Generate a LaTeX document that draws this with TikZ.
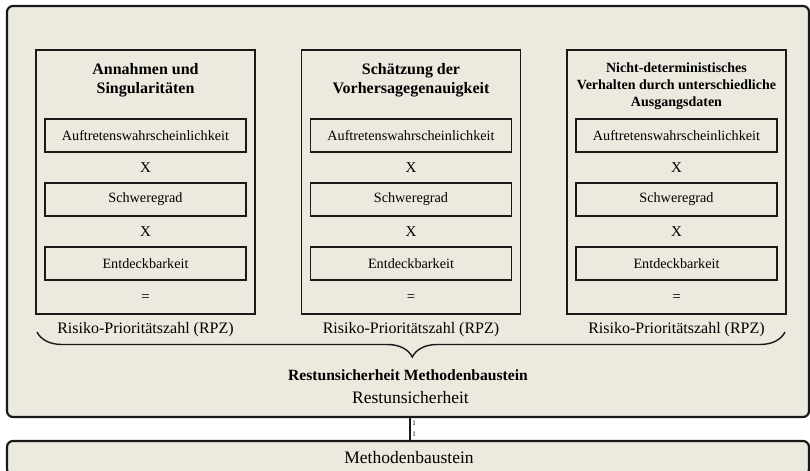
\documentclass[tikz,border=0pt]{standalone}
\usepackage{fontspec}
\setmainfont{Liberation Serif}
\usetikzlibrary{decorations.pathreplacing}
\definecolor{paper}{RGB}{236,233,223}
\definecolor{ink}{RGB}{25,25,25}
\tikzset{
  panel/.style={draw=ink, fill=paper, line width=2.2bp, rounded corners=6bp, inner sep=0pt},
  column/.style={draw=ink, fill=paper, line width=1.4bp, minimum width=219bp, minimum height=264bp, inner sep=0pt},
  factor/.style={draw=ink, fill=paper, line width=1.3bp, minimum width=201bp, minimum height=33bp, inner sep=0pt,
    font=\fontsize{14.2bp}{16bp}\selectfont},
  title/.style={align=center, inner sep=0pt, font=\fontsize{16bp}{19bp}\selectfont\bfseries},
  smalltitle/.style={align=center, inner sep=0pt, font=\fontsize{14bp}{17bp}\selectfont\bfseries},
  op/.style={inner sep=0pt, font=\fontsize{15bp}{18bp}\selectfont},
  rpz/.style={inner sep=0pt, font=\fontsize{16bp}{18bp}\selectfont},
  big/.style={inner sep=0pt, font=\fontsize{17.5bp}{20bp}\selectfont},
  bigbold/.style={inner sep=0pt, font=\fontsize{15.6bp}{18bp}\selectfont\bfseries},
  tiny/.style={inner sep=0pt, font=\fontsize{7bp}{8bp}\selectfont},
}
\begin{document}
\begin{tikzpicture}[x=1bp, y=-1bp]
\useasboundingbox (0,0) rectangle (810,471);

% outer container and lower module
\node[panel, minimum width=802bp, minimum height=411bp] (outer) at (408,211.5) {};
\node[panel, minimum width=802bp, minimum height=34bp] (base) at (408,458) {};
\node[big] (basetext) at (409,458) {Methodenbaustein};

% three risk columns
\foreach \c/\x/\ty/\ts/\t in {
  a/145.5/80/title/{Annahmen und\\Singularitäten},
  b/411/80.5/title/{Schätzung der\\Vorhersagegenauigkeit},
  c/676.5/86/smalltitle/{Nicht-deterministisches\\Verhalten durch unterschiedliche\\Ausgangsdaten}} {
  \node[column] (col\c) at (\x,182) {};
  \node[\ts] (title\c) at (\x,\ty) {\t};
  \node[factor] (occ\c) at (\x,135.5) {Auftretenswahrscheinlichkeit};
  \node[op] (x1\c) at (\x,168) {X};
  \node[factor] (sev\c) at (\x,199.5) {Schweregrad};
  \node[op] (x2\c) at (\x,232) {X};
  \node[factor] (det\c) at (\x,263.5) {Entdeckbarkeit};
  \node[op] (eq\c) at (\x,298) {=};
  \node[rpz] (rpz\c) at (\x,330) {Risiko-Prioritätszahl (RPZ)};
}

% brace collecting the three RPZ values
\coordinate (braceL) at (37,332);
\coordinate (braceR) at (785,332);
\draw[ink, line width=1.4bp, decorate, decoration={brace, mirror, amplitude=25bp, aspect=0.5017}] (braceL) -- (braceR);

\node[bigbold] (restbold) at (408,375) {Restunsicherheit Methodenbaustein};
\node[big] (rest) at (410.5,398) {Restunsicherheit};

% link between the two panels
\draw[ink, line width=2bp] ([xshift=2bp]outer.south) -- ([xshift=2bp]base.north);
\node[tiny] (m1) at (414,423) {1};
\node[tiny] (m2) at (414,434) {1};
\end{tikzpicture}
\end{document}
